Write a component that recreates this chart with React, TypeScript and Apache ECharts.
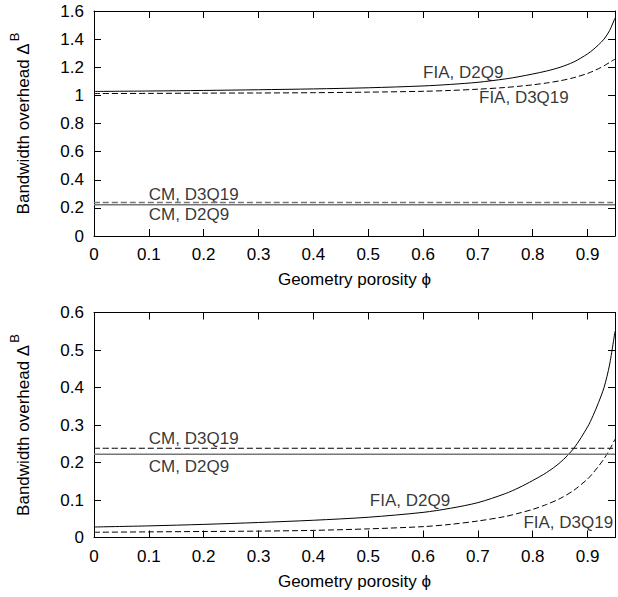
import React, { useEffect, useRef } from "react";
import * as echarts from "echarts";

// Porosity sample points (x axis)
const porosity = [0, 0.1, 0.2, 0.3, 0.4, 0.5, 0.6, 0.65, 0.7, 0.75, 0.775, 0.8, 0.825, 0.85, 0.875, 0.9, 0.91, 0.92, 0.93, 0.94, 0.95];

// Top panel
const topFiaD2Q9 = [1.028, 1.031, 1.035, 1.04, 1.046, 1.054, 1.067, 1.078, 1.093, 1.117, 1.133, 1.152, 1.173, 1.2, 1.238, 1.295, 1.325, 1.36, 1.4, 1.46, 1.55];
const topFiaD3Q19 = [1.013, 1.014, 1.016, 1.017, 1.019, 1.023, 1.029, 1.035, 1.044, 1.056, 1.065, 1.075, 1.088, 1.104, 1.126, 1.156, 1.172, 1.19, 1.21, 1.234, 1.258];
const topCmD2Q9 = 0.222;
const topCmD3Q19 = 0.238;

// Bottom panel
const botFiaD2Q9 = [0.028, 0.031, 0.035, 0.04, 0.046, 0.054, 0.067, 0.078, 0.093, 0.117, 0.133, 0.152, 0.173, 0.2, 0.238, 0.295, 0.325, 0.36, 0.4, 0.46, 0.55];
const botFiaD3Q19 = [0.014, 0.015, 0.016, 0.017, 0.019, 0.023, 0.029, 0.035, 0.044, 0.056, 0.065, 0.075, 0.088, 0.104, 0.126, 0.156, 0.172, 0.19, 0.21, 0.234, 0.262];
const botCmD2Q9 = 0.222;
const botCmD3Q19 = 0.238;

// Curve labels: [x, y, text] in data coordinates (left edge, vertical centre)
const topLabels: [number, number, string][] = [
  [0.6, 1.161, "FIA, D2Q9"],
  [0.702, 0.984, "FIA, D3Q19"],
  [0.1, 0.297, "CM, D3Q19"],
  [0.1, 0.154, "CM, D2Q9"],
];
const botLabels: [number, number, string][] = [
  [0.1, 0.264, "CM, D3Q19"],
  [0.1, 0.19, "CM, D2Q9"],
  [0.503, 0.1, "FIA, D2Q9"],
  [0.783, 0.04, "FIA, D3Q19"],
];

const FONT = "'Liberation Sans', Arial, Helvetica, sans-serif";
const FS = 17;
const X_MIN = 0;
const X_MAX = 0.95;

function fmtX(v: number) {
  if (Math.abs(v - 0.95) < 1e-9) return "";
  return String(+v.toFixed(2));
}
function fmtY(v: number) {
  return String(+v.toFixed(2));
}

function zip(xs: number[], ys: number[]) {
  return xs.map((x, i) => [x, ys[i]]);
}

export default function App() {
  const ref = useRef<HTMLDivElement>(null);
  useEffect(() => {
    if (!ref.current) return;
    const chart = echarts.init(ref.current, null, { renderer: "svg" });

    const tick = { show: true, inside: true, length: 7, lineStyle: { color: "#000", width: 1 } };
    const axLine = { show: true, onZero: false, lineStyle: { color: "#000", width: 1 } };
    const lbl = { color: "#000", fontSize: FS, fontFamily: FONT };

    const xMain = (gridIndex: number) => ({
      type: "value",
      gridIndex,
      min: X_MIN,
      max: X_MAX,
      interval: 0.1,
      position: "bottom",
      axisLine: axLine,
      axisTick: tick,
      splitLine: { show: false },
      axisLabel: { ...lbl, margin: 10, formatter: fmtX },
      name: "Geometry porosity \u03D5",
      nameLocation: "middle",
      nameGap: 35,
      nameTextStyle: { ...lbl },
    });
    const xTop = (gridIndex: number) => ({
      type: "value",
      gridIndex,
      min: X_MIN,
      max: X_MAX,
      interval: 0.1,
      position: "top",
      axisLine: axLine,
      axisTick: tick,
      splitLine: { show: false },
      axisLabel: { show: false },
    });
    const yMain = (gridIndex: number, max: number, interval: number, gap: number) => ({
      type: "value",
      gridIndex,
      min: 0,
      max,
      interval,
      position: "left",
      axisLine: axLine,
      axisTick: tick,
      splitLine: { show: false },
      axisLabel: { ...lbl, margin: 10, formatter: fmtY },
      name: "{a|Bandwidth overhead \u0394}{b|B}",
      nameLocation: "middle",
      nameGap: gap,
      nameTextStyle: {
        ...lbl,
        rich: {
          a: { fontSize: FS, fontFamily: FONT, color: "#000", lineHeight: 24, verticalAlign: "bottom" },
          b: { fontSize: 13, fontFamily: FONT, color: "#000", lineHeight: 24, verticalAlign: "top", padding: [0, 0, 0, 2] },
        },
      },
    });
    const yRight = (gridIndex: number, max: number, interval: number) => ({
      type: "value",
      gridIndex,
      min: 0,
      max,
      interval,
      position: "right",
      axisLine: axLine,
      axisTick: tick,
      splitLine: { show: false },
      axisLabel: { show: false },
    });

    const line = (xi: number, yi: number, data: number[][], dashed: boolean, color = "#000", width = 1) => ({
      type: "line",
      xAxisIndex: xi,
      yAxisIndex: yi,
      data,
      showSymbol: false,
      symbol: "none",
      smooth: 0.3,
      lineStyle: { color, width, type: dashed ? [6, 3] : "solid" },
      silent: true,
    });

    const labels = (xi: number, yi: number, items: [number, number, string][]) => ({
      type: "scatter",
      xAxisIndex: xi,
      yAxisIndex: yi,
      symbolSize: 0,
      silent: true,
      data: items.map(([x, y, t]) => ({ value: [x, y], name: t })),
      label: {
        show: true,
        position: "right",
        distance: 0,
        formatter: "{b}",
        color: "#000",
        fontSize: FS,
        fontFamily: FONT,
      },
    });

    chart.setOption({
      animation: false,
      grid: [
        { left: 93, top: 11, width: 526, height: 225 },
        { left: 89, top: 312.5, width: 526, height: 225 },
      ],
      xAxis: [xMain(0), xTop(0), xMain(1), xTop(1)],
      yAxis: [yMain(0, 1.6, 0.2, 62), yRight(0, 1.6, 0.2), yMain(1, 0.6, 0.1, 62), yRight(1, 0.6, 0.1)],
      series: [
        line(0, 0, zip(porosity, topFiaD2Q9), false),
        line(0, 0, zip(porosity, topFiaD3Q19), true),
        line(0, 0, [[X_MIN, topCmD2Q9], [X_MAX, topCmD2Q9]], false, "#777", 1.5),
        line(0, 0, [[X_MIN, topCmD3Q19], [X_MAX, topCmD3Q19]], true, "#777", 1.5),
        labels(0, 0, topLabels),
        line(2, 2, zip(porosity, botFiaD2Q9), false),
        line(2, 2, zip(porosity, botFiaD3Q19), true),
        line(2, 2, [[X_MIN, botCmD2Q9], [X_MAX, botCmD2Q9]], false, "#777", 1.5),
        line(2, 2, [[X_MIN, botCmD3Q19], [X_MAX, botCmD3Q19]], true, "#000", 1),
        labels(2, 2, botLabels),
      ],
    });
    return () => chart.dispose();
  }, []);
  return (
    <div
      ref={ref}
      style={{ position: "absolute", left: 0, top: 0, width: 618, height: 597, background: "#fff" }}
    />
  );
}
